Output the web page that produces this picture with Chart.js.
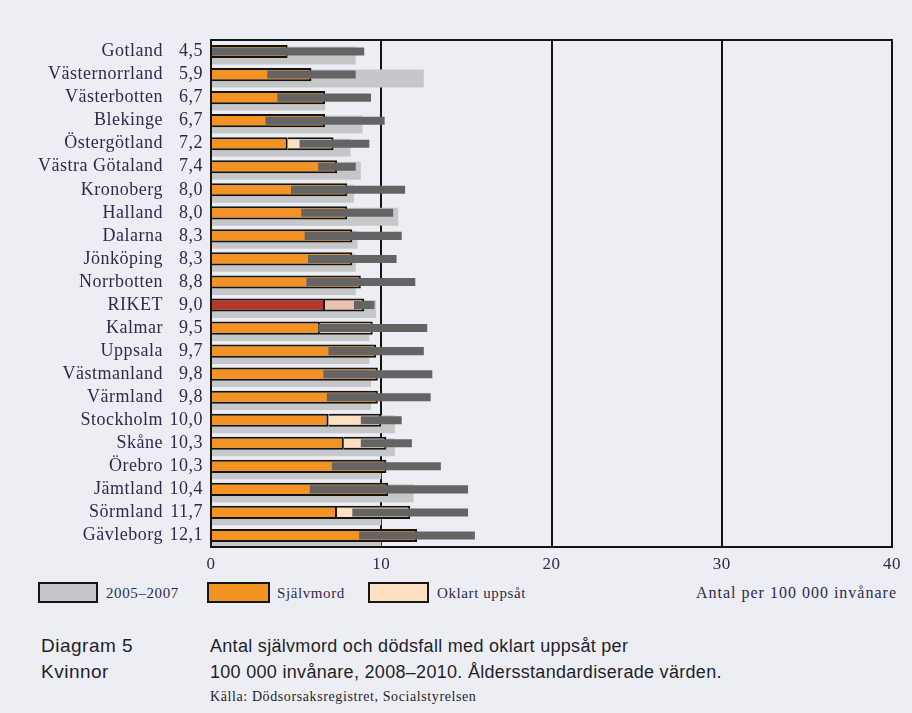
<!DOCTYPE html>
<html>
<head>
<meta charset="utf-8">
<script src="https://cdn.jsdelivr.net/npm/chart.js@4.4.1/dist/chart.umd.min.js"></script>
<style>
    body {
        margin: 0;
        width: 912px;
        height: 713px;
        overflow: hidden;
        position: relative;
        background: #edeef4;
        font-family: "Liberation Serif", serif;
        color: #2e2a4a;
    }
    #chart-wrap {
        position: absolute;
        left: 0;
        top: 0;
        width: 912px;
        height: 580px;
    }
    .box {
        position: absolute;
        top: 582px;
        height: 21px;
        box-sizing: border-box;
        border: 2.5px solid #161616;
    }
    .legend-text {
        position: absolute;
        top: 583px;
        font-size: 15px;
        letter-spacing: 0.6px;
        line-height: 20px;
    }
    .caption {
        position: absolute;
        font-family: "Liberation Sans", Arial, sans-serif;
        font-size: 18px;
        color: #1f1f2a;
        line-height: 26px;
    }
</style>
</head>
<body>
<div id="chart-wrap"><canvas id="chart"></canvas></div>

<div class="box" style="left:38px;width:60px;background:#c6c7c9;"></div>
<div class="legend-text" style="left:106px;">2005–2007</div>
<div class="box" style="left:207px;width:63px;background:#f39324;"></div>
<div class="legend-text" style="left:277px;">Självmord</div>
<div class="box" style="left:368px;width:61px;background:#fde0c2;"></div>
<div class="legend-text" style="left:437px;">Oklart uppsåt</div>
<div class="legend-text" style="right:15px;font-size:16px;letter-spacing:1px;">Antal per 100 000 invånare</div>

<div class="caption" style="left:41px;top:633px;font-size:19px;letter-spacing:0.5px;">Diagram 5<br>Kvinnor</div>
<div class="caption" style="left:210px;top:633px;letter-spacing:0.3px;">Antal självmord och dödsfall med oklart uppsåt per<br>100 000 invånare, 2008–2010. Åldersstandardiserade värden.</div>
<div class="caption" style="left:210px;top:688px;font-family:'Liberation Serif',serif;font-size:14px;letter-spacing:0.6px;line-height:18px;">Källa: Dödsorsaksregistret, Socialstyrelsen</div>

<script>
// Regions, top to bottom
const regions = ['Gotland', 'Västernorrland', 'Västerbotten', 'Blekinge', 'Östergötland',
    'Västra Götaland', 'Kronoberg', 'Halland', 'Dalarna', 'Jönköping', 'Norrbotten', 'RIKET',
    'Kalmar', 'Uppsala', 'Västmanland', 'Värmland', 'Stockholm', 'Skåne', 'Örebro',
    'Jämtland', 'Sörmland', 'Gävleborg'];

// Total rate 2008-2010 as printed next to the names
const totalLabels = ['4,5', '5,9', '6,7', '6,7', '7,2', '7,4', '8,0', '8,0', '8,3', '8,3', '8,8',
    '9,0', '9,5', '9,7', '9,8', '9,8', '10,0', '10,3', '10,3', '10,4', '11,7', '12,1'];

// Självmord and oklart uppsåt (stacked)
const suicides = [4.5, 5.9, 6.7, 6.7, 4.5, 7.4, 8.0, 8.0, 8.3, 8.3, 8.8,
    6.7, 6.4, 9.7, 9.8, 9.8, 6.9, 7.8, 10.3, 10.4, 7.4, 12.1];
const unclear = [0, 0, 0, 0, 2.7, 0, 0, 0, 0, 0, 0,
    2.3, 3.1, 0, 0, 0, 3.1, 2.5, 0, 0, 4.3, 0];

// Confidence interval around the total
const ciLow = [0, 3.3, 3.9, 3.2, 5.2, 6.3, 4.7, 5.3, 5.5, 5.7, 5.6,
    8.4, 6.3, 6.9, 6.6, 6.8, 8.8, 8.8, 7.1, 5.8, 8.3, 8.7];
const ciHigh = [9.0, 8.5, 9.4, 10.2, 9.3, 8.5, 11.4, 10.7, 11.2, 10.9, 12.0,
    9.6, 12.7, 12.5, 13.0, 12.9, 11.2, 11.8, 13.5, 15.1, 15.1, 15.5];

// Same rate for 2005-2007
const prev0507 = [8.5, 12.5, 6.7, 8.9, 8.2, 8.8, 8.4, 11.0, 8.6, 8.5, 8.5,
    9.7, 9.3, 9.3, 9.4, 9.4, 10.8, 10.8, 10.0, 11.9, 10.0, 10.0];

const xTicks = [0, 10, 20, 30, 40];

const textColor = '#2e2a4a';
const rikIdx = regions.indexOf('RIKET');

// Border around the plot area
const frame = {
    id: 'frame',
    beforeDraw(chart) {
        chart.ctx.letterSpacing = '0.5px';
    },
    afterDatasetsDraw(chart) {
        const { ctx, chartArea: a } = chart;
        ctx.save();
        ctx.strokeStyle = '#141414';
        ctx.lineWidth = 2;
        ctx.strokeRect(a.left, a.top, a.right - a.left, a.bottom - a.top);
        ctx.restore();
    }
};

const ctx = document.getElementById('chart').getContext('2d');

new Chart(ctx, {
    type: 'bar',
    data: {
        labels: regions,
        datasets: [
            {
                label: 'Konfidensintervall',
                data: ciLow.map((lo, i) => [lo, ciHigh[i]]),
                backgroundColor: '#646464',
                stack: 'ci',
                grouped: false,
                categoryPercentage: 1,
                barPercentage: 0.35,
                yAxisID: 'y'
            },
            {
                label: 'Självmord',
                data: suicides,
                backgroundColor: regions.map((r, i) => i === rikIdx ? '#b5362b' : '#f39324'),
                borderColor: '#141414',
                borderWidth: 2,
                stack: 'main',
                grouped: false,
                categoryPercentage: 1,
                barPercentage: 0.57,
                yAxisID: 'y'
            },
            {
                label: 'Oklart uppsåt',
                data: unclear,
                backgroundColor: regions.map((r, i) => i === rikIdx ? '#e9c2b0' : '#fde0c2'),
                borderColor: '#141414',
                borderWidth: 2,
                stack: 'main',
                grouped: false,
                categoryPercentage: 1,
                barPercentage: 0.57,
                yAxisID: 'y'
            },
            {
                label: '2005–2007',
                // slightly below the main bar: hidden linear index axis
                data: prev0507.map((v, i) => ({ x: v, y: i + 0.67 })),
                backgroundColor: '#c6c7c9',
                grouped: false,
                categoryPercentage: 1,
                barPercentage: 0.78,
                yAxisID: 'yg'
            }
        ]
    },
    options: {
        indexAxis: 'y',
        responsive: true,
        maintainAspectRatio: false,
        animation: false,
        layout: {
            padding: { top: 40, right: 20, left: 0, bottom: 0 }
        },
        plugins: {
            legend: { display: false },
            tooltip: { enabled: false }
        },
        scales: {
            x: {
                type: 'linear',
                min: 0,
                max: 40,
                stacked: true,
                afterBuildTicks: (scale) => {
                    scale.ticks = xTicks.map(v => ({ value: v }));
                },
                afterFit: (scale) => { scale.height = 33; },
                grid: { color: '#141414', lineWidth: 2, drawTicks: false },
                border: { color: '#141414', width: 2 },
                ticks: {
                    padding: 7,
                    color: textColor,
                    font: { family: 'Liberation Serif', size: 17 }
                }
            },
            y: {
                type: 'category',
                position: 'left',
                offset: true,
                weight: 0,
                afterFit: (scale) => { scale.width = 48; },
                grid: { display: false, drawTicks: false },
                border: { color: '#141414', width: 2 },
                ticks: {
                    autoSkip: false,
                    padding: 8,
                    color: textColor,
                    font: { family: 'Liberation Serif', size: 18 },
                    callback: (value, index) => totalLabels[index]
                }
            },
            yNames: {
                type: 'category',
                position: 'left',
                labels: regions,
                offset: true,
                weight: 10,
                afterFit: (scale) => { scale.width = 163; },
                grid: { display: false, drawTicks: false },
                border: { display: false },
                ticks: {
                    autoSkip: false,
                    padding: 0,
                    color: textColor,
                    font: { family: 'Liberation Serif', size: 18 }
                }
            },
            yg: {
                type: 'linear',
                display: false,
                offset: false,
                reverse: true,
                min: 0,
                max: 22,
                ticks: { stepSize: 1 }
            }
        }
    },
    plugins: [frame]
});
</script>
</body>
</html>
